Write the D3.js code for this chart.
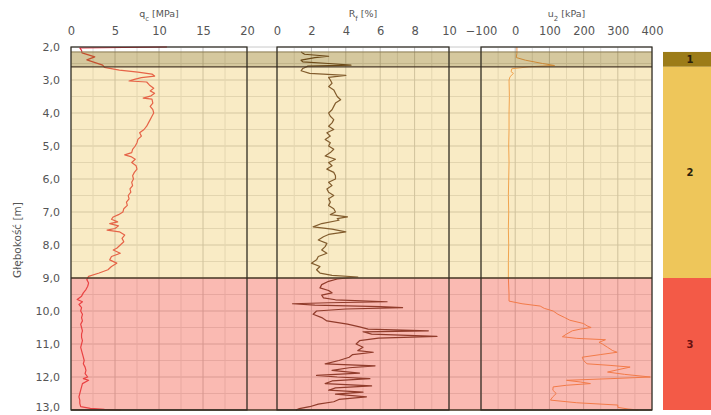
<!DOCTYPE html>
<html>
<head>
<meta charset="utf-8">
<script src="https://cdn.jsdelivr.net/npm/d3@7"></script>
<style>
  body { margin: 0; background: #fff; }
  svg text { font-family: "DejaVu Sans", Verdana, sans-serif; }
</style>
</head>
<body>
<div id="chart"></div>
<script>
// Chart size
const WIDTH = 711;
const HEIGHT = 415;

// Depth range and ticks
const DEPTH_DOMAIN = [2, 13];
const DEPTH_TICKS = [2, 3, 4, 5, 6, 7, 8, 9, 10, 11, 12, 13];

// Panel axes
const QC_TICKS = [0, 5, 10, 15, 20];
const RF_TICKS = [0, 2, 4, 6, 8, 10];
const U2_TICKS = [-100, 0, 100, 200, 300, 400];

// Soil layers
const layerNames = ['1', '2', '3'];
const layerTop = [2.15, 2.6, 9.0];
const layerBottom = [2.6, 9.0, 13.0];
const layerColors = ['#9c7c18', '#eec65a', '#f35a47'];
const layerOverlay = [0.42, 0.35, 0.42];

// qc [MPa]
const qcDepth = [2.00, 2.03, 2.10, 2.18, 2.30, 2.39, 2.55, 2.62, 2.70, 2.76, 2.82, 2.88, 2.93, 2.98, 3.03, 3.06,
  3.15, 3.25, 3.33, 3.40, 3.48, 3.55, 3.58, 3.70, 3.80, 3.90, 4.00, 4.10, 4.20, 4.30, 4.40, 4.50, 4.60, 4.70,
  4.80, 4.90, 5.00, 5.10, 5.20, 5.27, 5.32, 5.40, 5.50, 5.60, 5.70, 5.80, 5.90, 6.00, 6.10, 6.20, 6.30, 6.40,
  6.50, 6.60, 6.70, 6.80, 6.90, 7.00, 7.08, 7.15, 7.22, 7.30, 7.35, 7.42, 7.50, 7.55, 7.60, 7.70, 7.80, 7.90,
  8.00, 8.10, 8.15, 8.25, 8.35, 8.45, 8.55, 8.65, 8.75, 8.85, 8.95, 9.05, 9.15, 9.25, 9.35, 9.45, 9.55, 9.65,
  9.72, 9.80, 9.90, 10.0, 10.1, 10.2, 10.3, 10.4, 10.5, 10.6, 10.7, 10.8, 10.9, 11.0, 11.1, 11.2, 11.3, 11.4,
  11.5, 11.6, 11.7, 11.8, 11.9, 12.0, 12.05, 12.1, 12.2, 12.3, 12.4, 12.5, 12.6, 12.7, 12.8, 12.9, 12.95,
  12.98, 13.0];
const qcValue = [10.9, 1.0, 1.2, 1.25, 2.7, 1.8, 3.6, 3.8, 5.5, 7.6, 9.2, 9.5, 8.0, 7.2, 6.6, 8.6,
  8.9, 9.4, 9.0, 9.5, 9.1, 8.2, 9.2, 9.3, 9.0, 9.3, 9.4, 9.2, 9.0, 8.8, 8.6, 8.3, 7.8, 8.0,
  7.6, 7.5, 7.3, 7.0, 6.9, 6.1, 6.8, 7.3, 6.9, 7.4, 7.5, 7.2, 7.0, 7.1, 6.9, 7.0, 6.7, 6.8,
  6.5, 6.6, 6.3, 6.4, 6.0, 5.9, 5.4, 4.8, 4.6, 5.3, 4.4, 5.4, 5.0, 4.1, 5.5, 6.1, 5.8, 6.0,
  5.6, 5.2, 4.8, 5.6, 4.6, 4.4, 5.2, 4.6, 4.2, 3.2, 2.0, 1.8, 2.0, 1.9, 1.7, 1.4, 1.2, 0.7,
  1.3, 0.9, 1.2, 1.1, 1.3, 1.2, 1.3, 1.1, 1.2, 1.3, 1.2, 1.2, 1.3, 1.2, 1.1, 1.2, 1.3, 1.4,
  1.5, 1.4, 1.6, 1.7, 1.6, 1.9, 1.4, 2.0, 1.3, 1.2, 1.1, 1.0, 0.9, 1.0, 1.0, 1.1, 2.2,
  3.8, 5.6];

// Rf [%]
const rfDepth = [2.15, 2.22, 2.28, 2.32, 2.40, 2.45, 2.50, 2.55, 2.58, 2.65, 2.72, 2.80, 2.86, 2.92, 3.00,
  3.10, 3.20, 3.30, 3.40, 3.50, 3.60, 3.70, 3.80, 3.90, 4.00, 4.10, 4.20, 4.30, 4.40, 4.50, 4.60, 4.70,
  4.80, 4.90, 5.00, 5.10, 5.20, 5.30, 5.40, 5.50, 5.60, 5.70, 5.80, 5.90, 6.00, 6.10, 6.20, 6.30, 6.40,
  6.50, 6.60, 6.70, 6.80, 6.90, 7.00, 7.08, 7.15, 7.20, 7.25, 7.35, 7.45, 7.52, 7.60, 7.68, 7.75, 7.85,
  7.95, 8.05, 8.15, 8.25, 8.35, 8.45, 8.55, 8.65, 8.75, 8.85, 8.92, 8.97, 9.03, 9.10, 9.20, 9.30, 9.38,
  9.45, 9.52, 9.60, 9.66, 9.72, 9.75, 9.78, 9.82, 9.87, 9.90, 9.94, 10.00, 10.10, 10.20, 10.30, 10.40,
  10.48, 10.55, 10.60, 10.63, 10.70, 10.77, 10.82, 10.90, 11.00, 11.10, 11.20, 11.25, 11.32, 11.40,
  11.50, 11.60, 11.66, 11.72, 11.80, 11.88, 11.95, 12.00, 12.05, 12.12, 12.20, 12.27, 12.33, 12.40,
  12.46, 12.52, 12.60, 12.68, 12.75, 12.82, 12.90, 12.96, 13.00];
const rfValue = [1.4, 1.6, 3.0, 2.2, 1.4, 1.5, 3.0, 4.3, 1.8, 1.5, 1.4, 1.9, 4.0, 3.0, 3.1,
  3.2, 3.0, 3.3, 3.4, 3.5, 3.7, 3.4, 3.3, 3.2, 3.0, 3.1, 3.3, 3.2, 3.0, 3.3, 2.9, 3.1,
  2.8, 3.1, 3.0, 3.3, 3.1, 2.8, 3.4, 3.0, 3.2, 2.9, 3.3, 3.4, 3.4, 3.0, 3.2, 2.9, 3.0,
  3.3, 3.0, 3.1, 3.0, 3.3, 3.4, 3.1, 4.1, 3.5, 3.6, 2.6, 2.1, 3.2, 4.0, 3.0, 2.7, 2.4,
  2.9, 2.8, 2.6, 2.9, 2.4, 2.3, 2.0, 2.5, 2.3, 2.5, 3.2, 4.7, 3.5, 3.0, 2.6, 2.5, 3.0,
  3.2, 2.6, 2.7, 3.4, 6.4, 3.0, 0.9, 2.2, 6.0, 7.3, 4.0, 2.3, 2.1, 2.6, 2.9, 4.1,
  4.8, 5.3, 8.8, 5.0, 5.5, 9.3, 5.9, 4.8, 4.6, 5.0, 4.7, 5.6, 4.4, 4.2,
  3.6, 2.8, 5.7, 4.2, 3.2, 4.8, 2.3, 3.5, 5.4, 3.2, 2.8, 5.5, 3.4, 3.0,
  5.0, 3.4, 5.2, 3.6, 3.3, 2.4, 1.9, 1.3, 1.1];

// u2 [kPa]
const u2Depth = [2.00, 2.10, 2.20, 2.32, 2.40, 2.50, 2.56, 2.60, 2.66, 2.75, 2.80, 2.90, 3.00, 3.50, 4.00,
  4.50, 5.00, 5.50, 6.00, 6.50, 7.00, 7.50, 8.00, 8.50, 9.00, 9.50, 9.70, 9.78, 9.85, 9.92, 10.0, 10.1,
  10.2, 10.28, 10.38, 10.45, 10.50, 10.55, 10.60, 10.70, 10.78, 10.83, 10.87, 10.95, 11.0, 11.1, 11.2,
  11.25, 11.32, 11.40, 11.50, 11.60, 11.65, 11.70, 11.78, 11.85, 11.92, 12.00, 12.05, 12.10, 12.15,
  12.20, 12.25, 12.30, 12.40, 12.50, 12.60, 12.70, 12.78, 12.85, 12.92, 12.97, 13.00];
const u2Value = [5, 5, 5, 3, 30, 80, 115, 40, -10, -12, -5, -15, -18, -17, -18,
  -18, -19, -18, -19, -20, -19, -20, -19, -20, -20, -18, -18, 20, 73, 85, 111, 125,
  145, 160, 200, 210, 222, 190, 167, 150, 138, 180, 264, 245, 255, 270, 285,
  298, 250, 196, 200, 210, 280, 336, 300, 270, 320, 395, 280, 150, 190,
  220, 150, 111, 110, 120, 110, 103, 180, 300, 300, 330, 360];

setup();

function setup () {
  const svg = d3.select('#chart')
    .append('svg')
    .attr('width', WIDTH)
    .attr('height', HEIGHT);

  // Scales
  const y = d3.scaleLinear().domain(DEPTH_DOMAIN).range([47, 410]);
  const panels = [
    { x: d3.scaleLinear().domain([0, 20]).range([71, 247]), ticks: QC_TICKS, minor: 2.5,
      depth: qcDepth, value: qcValue, color: '#e2303f', width: 1.2,
      title: ['q', 'c', ' [MPa]'] },
    { x: d3.scaleLinear().domain([0, 10]).range([277, 449]), ticks: RF_TICKS, minor: 1,
      depth: rfDepth, value: rfValue, color: '#4a2618', width: 1.2,
      title: ['R', 'f', ' [%]'] },
    { x: d3.scaleLinear().domain([-100, 400]).range([481, 652]), ticks: U2_TICKS, minor: 50,
      depth: u2Depth, value: u2Value, color: '#f2924a', width: 1,
      title: ['u', '2', ' [kPa]'] }
  ];
  const left = panels[0].x.range()[0];
  const right = panels[2].x.range()[1];

  // Horizontal grid every 0.5 m
  const hGrid = d3.range(DEPTH_DOMAIN[0], DEPTH_DOMAIN[1] + 0.01, 0.5);
  svg.append('g').selectAll('line')
    .data(hGrid)
    .join('line')
    .attr('x1', left).attr('x2', right)
    .attr('y1', d => y(d)).attr('y2', d => y(d))
    .attr('stroke', d => Number.isInteger(d) ? '#c8c8c8' : '#dedede')
    .attr('stroke-width', 1);

  // Vertical grid in each panel
  panels.forEach(p => {
    const [d0, d1] = p.x.domain();
    const vals = d3.range(d0, d1 + 1e-6, p.minor);
    svg.append('g').selectAll('line')
      .data(vals)
      .join('line')
      .attr('x1', d => p.x(d)).attr('x2', d => p.x(d))
      .attr('y1', y(DEPTH_DOMAIN[0])).attr('y2', y(DEPTH_DOMAIN[1]))
      .attr('stroke', d => p.ticks.includes(d) ? '#c0c0c0' : '#e0e0e0')
      .attr('stroke-width', 1);
  });

  // Series lines
  panels.forEach(p => {
    const pts = p.depth.map((d, i) => [p.value[i], d]);
    const line = d3.line()
      .x(d => p.x(d[0]))
      .y(d => y(d[1]));
    svg.append('path')
      .datum(pts)
      .attr('d', line)
      .attr('fill', 'none')
      .attr('stroke', p.color)
      .attr('stroke-width', p.width)
      .attr('stroke-linejoin', 'round');
  });

  // Layer overlays (semi-transparent, tint the lines under them)
  const layers = layerNames.map((n, i) => ({
    name: n, top: layerTop[i], bottom: layerBottom[i], color: layerColors[i], alpha: layerOverlay[i]
  }));
  svg.append('g').selectAll('rect')
    .data(layers)
    .join('rect')
    .attr('x', left)
    .attr('width', right - left)
    .attr('y', d => y(d.top))
    .attr('height', d => y(d.bottom) - y(d.top))
    .attr('fill', d => d.color)
    .attr('fill-opacity', d => d.alpha);

  // Layer boundaries
  const bounds = [layerTop[0]].concat(layerBottom);
  svg.append('g').selectAll('line')
    .data(bounds)
    .join('line')
    .attr('x1', left).attr('x2', right)
    .attr('y1', d => y(d)).attr('y2', d => y(d))
    .attr('stroke', (d, i) => i === 0 ? '#8a7a50' : '#4a3a28')
    .attr('stroke-width', (d, i) => i === 0 ? 1 : 1.3);

  // Panel frames and top axes
  panels.forEach(p => {
    const [x0, x1] = p.x.range();
    svg.append('rect')
      .attr('x', x0).attr('y', y(DEPTH_DOMAIN[0]))
      .attr('width', x1 - x0).attr('height', y(DEPTH_DOMAIN[1]) - y(DEPTH_DOMAIN[0]))
      .attr('fill', 'none')
      .attr('stroke', '#2e2a22')
      .attr('stroke-width', 1.2);

    const axis = d3.axisTop(p.x)
      .tickValues(p.ticks)
      .tickSize(0)
      .tickPadding(12)
      .tickFormat(d3.format('d'));
    const g = svg.append('g')
      .attr('transform', `translate(0, ${y(DEPTH_DOMAIN[0])})`)
      .call(axis);
    g.select('.domain').remove();
    g.selectAll('text')
      .attr('fill', '#555')
      .style('font-size', '11.5px');

    const t = svg.append('text')
      .attr('x', (x0 + x1) / 2)
      .attr('y', 17)
      .attr('text-anchor', 'middle')
      .attr('fill', '#555')
      .style('font-size', '9.5px');
    t.append('tspan').text(p.title[0]);
    t.append('tspan').attr('baseline-shift', 'sub').style('font-size', '7px').text(p.title[1]);
    t.append('tspan').text(p.title[2]);
  });

  // Depth axis
  const yAxis = d3.axisLeft(y)
    .tickValues(DEPTH_TICKS)
    .tickSize(0)
    .tickPadding(11)
    .tickFormat(d => d3.format('.1f')(d).replace('.', ','));
  const gy = svg.append('g')
    .attr('transform', `translate(${left}, 0)`)
    .call(yAxis);
  gy.select('.domain').remove();
  gy.selectAll('text')
    .attr('fill', '#555')
    .attr('dy', d => d === DEPTH_DOMAIN[1] ? '0em' : '0.32em')
    .style('font-size', '11px');

  svg.append('text')
    .attr('transform', `translate(21, 240) rotate(-90)`)
    .attr('text-anchor', 'middle')
    .attr('fill', '#555')
    .style('font-size', '10.5px')
    .text('Głębokość [m]');

  // Layer column on the right
  const colX = 663;
  const colW = 54;
  svg.append('g').selectAll('rect')
    .data(layers)
    .join('rect')
    .attr('x', colX)
    .attr('width', colW)
    .attr('y', d => y(d.top))
    .attr('height', d => y(d.bottom) - y(d.top))
    .attr('fill', d => d.color);

  svg.append('g').selectAll('text')
    .data(layers)
    .join('text')
    .attr('x', colX + colW / 2)
    .attr('y', d => (y(d.top) + y(d.bottom)) / 2 + 3.5)
    .attr('text-anchor', 'middle')
    .attr('fill', (d, i) => i === 2 ? '#6a1010' : '#2a200a')
    .style('font-size', '10px')
    .style('font-weight', 'bold')
    .text(d => d.name);
}
</script>
</body>
</html>
